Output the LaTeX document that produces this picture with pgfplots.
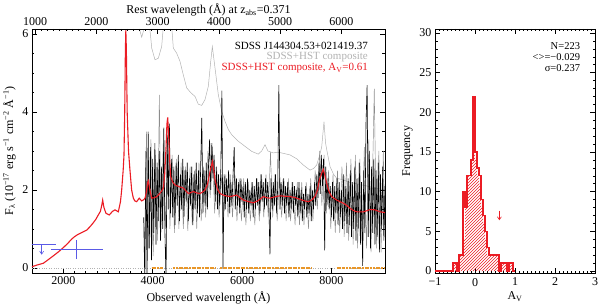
\documentclass[border=0pt]{standalone}
\usepackage{fontspec}
\setmainfont{Liberation Serif}
\usepackage{pgfplots}
\pgfplotsset{compat=1.18}
\usetikzlibrary{patterns,arrows.meta}
\definecolor{myred}{RGB}{235,28,36}
\definecolor{mygray}{RGB}{178,178,178}
\definecolor{mylgray}{RGB}{140,140,140}
\definecolor{myblue}{RGB}{90,90,230}
\definecolor{myorange}{RGB}{232,150,40}
\pgfplotsset{
 myaxis/.style={scale only axis, tick align=inside,
   /pgf/number format/assume math mode=true,
   /pgf/number format/set thousands separator={},
   tick label style={font=\fontsize{12}{12}\selectfont},
   label style={font=\fontsize{12}{13}\selectfont},
   major tick length=5pt, minor tick length=2.5pt,
   tick style={black, line width=0.5pt},
   axis line style={line width=0.6pt},
 }
}
\begin{document}
\begin{tikzpicture}
\useasboundingbox (0,0) rectangle (600pt,306pt);
% ---------------- left panel -----------------
\begin{axis}[myaxis, at={(32pt,33pt)}, anchor=south west, width=353pt, height=244pt,
 xmin=1300, xmax=9200, ymin=-0.13, ymax=6.13,
 xtick={2000,4000,6000,8000}, minor x tick num=7,
 ytick={0,2,4,6}, minor y tick num=3,
 xtick pos=left, ytick pos=both,
 xlabel={Observed wavelength (Å)},
 ylabel={F\textsubscript{λ} (10\textsuperscript{−17} erg s\textsuperscript{−1} cm\textsuperscript{−2} Å\textsuperscript{−1})},
]
% zero line
\addplot[mygray, line width=0.6pt, dash pattern=on 0.8pt off 1.6pt] coordinates {(1300,0) (9200,0)};
% unreddened composite
\addplot[mygray, line width=0.5pt] coordinates {
(3550,8) (3600,6.5) (3700,6.15) (3755,5.92) (3800,6.1) (3850,6.3) (3904,6.4) (3950,6.0) (3979,5.64) (4053,5.34) (4127,5.38) (4202,5.68) (4240,6.2) (4300,7.0) (4360,7.5) (4420,6.3) (4463,5.64) (4538,5.51) (4612,5.30) (4687,4.95) (4762,4.62) (4850,4.5) (4948,4.40) (5022,4.2) (5098,4.17) (5172,4.32) (5246,4.66) (5300,5.30) (5336,5.68) (5396,5.13) (5470,4.44) (5545,4.02) (5620,3.76) (5694,3.55) (5769,3.42) (5917,3.25) (6067,3.12) (6217,2.99) (6365,2.92) (6440,3.0) (6515,3.16) (6580,3.0) (6700,2.95) (6800,2.97) (6926,2.94) (7075,2.9) (7224,2.8) (7372,2.64) (7522,2.51) (7600,2.55) (7671,2.64) (7740,2.9) (7783,3.1) (7835,3.75) (7870,3.2) (7910,2.95) (7970,2.6) (8050,2.4) (8120,2.3) (8268,2.26) (8400,2.2) (8600,2.15) (8800,2.1) (9000,2.05) (9200,2.0)};
% gray noisy spectrum
\addplot[mylgray, line width=0.45pt] table {
x y
3812 0.0
3862 3.5
3912 0.5
3962 3.3
4012 0.3
4062 2.9
4112 0.7
4150 4.44
4187 0.9
4237 3.2
4287 1.0
4337 3.6
4387 1.0
4437 2.9
4487 0.9
4537 2.8
4587 1.0
4637 2.7
4687 1.0
4737 2.6
4787 0.95
4837 2.6
4887 1.1
4937 2.5
4987 1.0
5037 2.7
5087 1.2
5137 2.6
5187 1.3
5237 3.0
5287 1.8
5337 3.1
5387 1.4
5437 2.5
5487 1.3
5537 2.4
5587 1.2
5637 2.4
5687 1.3
5737 2.4
5787 1.3
5837 2.4
5887 1.2
5937 2.3
5987 1.2
6037 2.3
6087 1.1
6137 2.2
6187 1.2
6237 2.2
6287 1.1
6337 2.3
6387 1.2
6437 2.4
6487 1.3
6537 2.4
6587 1.3
6637 2.98
6687 1.3
6737 2.4
6787 1.2
6837 2.3
6887 1.3
6937 2.3
6987 1.2
7037 2.3
7087 1.2
7137 2.2
7187 1.1
7237 2.2
7287 1.1
7337 2.2
7387 1.1
7437 2.2
7487 1.0
7537 2.3
7587 1.2
7637 2.5
7687 1.5
7737 3.0
7787 1.6
7837 2.9
7887 1.4
7937 2.5
7987 1.0
8037 2.4
8087 0.9
8137 2.5
8187 0.9
8237 2.6
8287 0.8
8337 2.7
8387 0.7
8437 2.8
8487 0.6
8537 2.9
8587 0.5
8637 2.8
8687 0.6
8737 3.1
8787 0.5
8837 3.3
8887 0.4
8960 4.6
9012 0.5
9062 3.0
9112 0.4
9162 3.0
9200 1.0
};
% black SDSS spectrum
\addplot[black, line width=0.6pt] table {
x y
3800 1.3
3825 -0.4
3850 3.0
3875 -0.3
3900 3.5
3925 0.5
3950 3.1
3975 0.2
4000 2.8
4025 0.9
4050 3.2
4075 0.6
4100 2.7
4125 1.2
4150 3.0
4175 0.7
4200 2.6
4225 1.0
4250 3.6
4275 0.9
4300 -0.3
4325 3.4
4350 1.5
4375 3.7
4400 1.4
4425 2.8
4450 1.3
4475 2.6
4500 1.1
4525 2.7
4550 1.6
4575 2.9
4600 1.2
4625 2.4
4650 1.5
4675 2.8
4700 1.3
4725 2.5
4750 1.7
4775 2.7
4800 1.2
4825 2.3
4850 1.6
4875 2.6
4900 1.1
4925 2.4
4950 1.5
4975 2.7
5000 1.4
5025 2.5
5050 1.3
5075 2.6
5100 3.85
5125 1.4
5150 2.5
5175 1.6
5200 2.7
5225 1.5
5250 2.6
5275 3.3
5300 2.0
5325 3.2
5350 2.3
5375 2.9
5400 1.7
5425 2.6
5450 1.5
5475 2.4
5500 1.6
5525 2.5
5550 4.55
5575 0.0
5600 2.4
5625 1.5
5650 2.3
5675 1.7
5700 2.5
5725 1.4
5750 2.2
5775 1.6
5800 2.4
5825 3.1
5850 1.5
5875 2.3
5900 1.6
5925 2.2
5950 1.4
5975 2.3
6000 1.7
6025 2.1
6050 1.3
6075 2.2
6100 1.5
6125 2.3
6150 1.4
6175 2.0
6200 1.6
6225 2.2
6250 1.3
6275 2.1
6300 1.5
6325 2.3
6350 1.6
6375 2.2
6400 1.4
6425 2.4
6450 1.7
6475 2.2
6500 1.5
6525 2.3
6550 1.6
6575 2.2
6600 1.7
6625 0.35
6650 2.3
6675 1.5
6700 2.2
6725 1.6
6750 2.4
6775 1.4
6800 2.1
6825 4.69
6850 1.5
6875 2.2
6900 1.6
6925 2.3
6950 1.4
6975 2.1
7000 1.6
7025 2.2
7050 1.3
7075 2.0
7100 1.5
7125 2.2
7150 1.4
7175 2.1
7200 1.6
7225 2.0
7250 1.3
7275 2.2
7300 1.4
7325 2.0
7350 1.2
7375 1.9
7400 1.5
7425 2.1
7450 1.3
7475 1.9
7500 1.4
7525 2.1
7550 1.2
7575 2.0
7600 1.5
7625 2.2
7650 1.6
7675 2.4
7700 1.8
7725 2.7
7750 1.9
7775 2.9
7800 2.1
7825 2.8
7850 0.45
7875 2.6
7900 1.6
7925 2.3
7950 1.5
7975 2.1
8000 1.3
8025 2.2
8050 1.2
8075 2.1
8100 1.4
8125 2.3
8150 1.1
8175 2.2
8200 1.3
8225 2.0
8250 1.0
8275 2.4
8300 1.2
8325 2.1
8350 0.9
8375 2.3
8400 1.1
8425 2.5
8450 0.8
8475 2.2
8500 1.0
8525 2.6
8550 0.7
8575 2.3
8600 1.0
8625 2.7
8650 0.6
8675 2.2
8700 0.05
8725 2.5
8750 0.9
8775 3.7
8800 4.69
8825 0.8
8850 3.0
8875 0.5
8900 2.6
8925 0.9
8950 2.8
8975 0.6
9000 2.5
9025 0.8
9050 2.7
9075 0.4
9100 2.4
9125 1.0
9150 2.6
9175 0.7
9200 2.1
};
% reddened composite
\addplot[myred, line width=1.1pt] coordinates {
(1300,0.03) (1400,0.07) (1553,0.12) (1650,0.2) (1777,0.31) (1900,0.42) (2000,0.52) (2100,0.63) (2188,0.74) (2250,0.80) (2314,0.85) (2400,0.90) (2524,0.97) (2600,1.06) (2672,1.16) (2730,1.25) (2784,1.36) (2830,1.45) (2860,1.6) (2882,1.74) (2910,1.55) (2956,1.40) (3030,1.36) (3100,1.45) (3158,1.49) (3232,1.44) (3280,1.7) (3307,2.0) (3340,2.5) (3359,2.9) (3375,4.0) (3390,5.6) (3400,6.1) (3412,5.6) (3430,4.0) (3460,3.0) (3493,2.5) (3530,2.0) (3568,1.79) (3600,1.72) (3643,1.70) (3700,1.79) (3754,1.72) (3800,1.75) (3830,1.79) (3860,1.95) (3890,2.2) (3904,2.24) (3930,2.05) (3979,1.79) (4030,1.80) (4091,1.83) (4150,1.9) (4200,1.97) (4240,2.05) (4270,2.4) (4300,3.1) (4320,3.7) (4337,3.86) (4355,3.5) (4380,2.8) (4404,2.34) (4450,2.2) (4500,2.13) (4600,2.08) (4688,2.05) (4750,1.97) (4800,1.91) (4912,1.96) (5000,1.92) (5061,1.91) (5120,1.95) (5174,2.0) (5230,2.15) (5284,2.47) (5337,2.73) (5370,2.5) (5396,2.26) (5450,2.02) (5508,1.91) (5600,1.86) (5732,1.83) (5881,1.87) (5960,1.8) (6030,1.74) (6150,1.70) (6254,1.67) (6350,1.72) (6478,1.83) (6560,1.8) (6627,1.79) (6750,1.83) (6851,1.85) (6950,1.84) (7075,1.83) (7200,1.80) (7298,1.76) (7400,1.72) (7485,1.70) (7560,1.74) (7634,1.83) (7690,2.0) (7731,2.26) (7790,2.45) (7820,2.53) (7850,2.4) (7895,2.17) (7950,1.95) (8007,1.83) (8119,1.74) (8268,1.66) (8350,1.6) (8417,1.53) (8500,1.47) (8567,1.44) (8716,1.44) (8800,1.47) (8865,1.50) (8977,1.49) (9089,1.44) (9200,1.42)};
% photometric points
\addplot[myblue, line width=0.6pt, mark=none, draw=none,
  error bars/.cd, x dir=both, x explicit, y dir=both, y explicit,
  error bar style={myblue, line width=0.6pt}, error mark options={myblue, mark size=2.5pt, line width=0.6pt}]
  coordinates {(2285,0.49) += (537,0.16) -= (508,0.20)};
\addplot[myblue, line width=0.6pt, mark=none, draw=none,
  error bars/.cd, x dir=both, x explicit,
  error bar style={myblue, line width=0.6pt}, error mark options={myblue, mark size=2.5pt, line width=0.6pt}]
  coordinates {(1517,0.61) += (260,0) -= (217,0)};
\addplot[myblue, line width=0.6pt, quiver={u=0, v=-0.27}, -{Straight Barb[length=3pt,width=4pt]}] coordinates {(1517,0.61)};
% orange masks
\addplot[myorange, line width=2pt, dash pattern=on 2pt off 0.6pt] coordinates {(3980,0) (4240,0)};
\addplot[myorange, line width=2pt, dash pattern=on 2pt off 0.6pt] coordinates {(4463,0) (5396,0)};
\addplot[myorange, line width=2pt, dash pattern=on 2pt off 0.6pt] coordinates {(5508,0) (7560,0)};
\addplot[myorange, line width=2pt, dash pattern=on 2pt off 0.6pt] coordinates {(8119,0) (8300,0)};
\addplot[myorange, line width=2pt, dash pattern=on 2pt off 0.6pt] coordinates {(8335,0) (8900,0)};
\addplot[myorange, line width=2pt, dash pattern=on 2pt off 0.6pt] coordinates {(8935,0) (9170,0)};
% legend text
\node[anchor=east, inner sep=0pt, font=\fontsize{11}{11}\selectfont, black] at (axis cs:8820,5.69) {SDSS J144304.53+021419.37};
\node[anchor=east, inner sep=0pt, font=\fontsize{11}{11}\selectfont, mygray] at (axis cs:8820,5.41) {SDSS+HST composite};
\node[anchor=east, inner sep=0pt, font=\fontsize{11}{11}\selectfont, myred] at (axis cs:8820,5.13) {SDSS+HST composite, A\textsubscript{V}=0.61};
\end{axis}
% top axis: rest wavelength
\begin{axis}[myaxis, at={(32pt,33pt)}, anchor=south west, width=353pt, height=244pt,
 xmin=948.2, xmax=6710.4, ymin=0, ymax=1, axis x line*=top, axis y line=none,
 xtick={1000,2000,3000,4000,5000,6000}, minor x tick num=9,
 xlabel style={yshift=-5.5pt},
 xlabel={Rest wavelength (Å) at z\textsubscript{abs}=0.371}]
\addplot[draw=none] coordinates {(1000,0.5)};
\end{axis}
% ---------------- right panel -----------------
\begin{axis}[myaxis, at={(435pt,33pt)}, anchor=south west, width=160pt, height=244pt,
 xmin=-1, xmax=3, ymin=-0.25, ymax=30.5,
 xtick={-1,0,1,2,3}, xticklabels={−1,0,1,2,3}, minor x tick num=9,
 ytick={0,5,10,15,20,25,30}, minor y tick num=4,
 xtick pos=both, ytick pos=both,
 xticklabel style={yshift=-1.5pt},
 xlabel style={yshift=1.5pt},
 xlabel={A\textsubscript{V}}, ylabel={Frequency}]
\addplot[const plot mark left, draw=none, pattern=north east lines, pattern color=myred] coordinates {
(-1,0) (-0.55,1) (-0.50,1) (-0.45,0) (-0.40,2) (-0.35,2) (-0.30,4) (-0.25,8) (-0.20,12) (-0.15,12) (-0.10,14) (-0.05,15) (0.00,14) (0.05,12) (0.10,11) (0.15,8) (0.20,6) (0.25,4) (0.30,2) (0.35,2) (0.40,2) (0.45,2) (0.50,2) (0.55,2) (0.60,0) (0.65,1) (0.70,1) (0.75,1) (0.80,0) (0.85,1) (0.90,1) (0.95,0) (1.0,0)} \closedcycle;
\addplot[const plot mark left, myred, line width=1.3pt] coordinates {
(-1,0) (-0.55,1) (-0.50,1) (-0.45,0) (-0.40,2) (-0.35,2) (-0.30,10) (-0.25,8) (-0.20,12) (-0.15,12) (-0.10,14) (-0.05,22) (0.00,15) (0.05,13) (0.10,12) (0.15,9) (0.20,7) (0.25,5) (0.30,3) (0.35,2) (0.40,2) (0.45,2) (0.50,2) (0.55,2) (0.60,0) (0.65,1) (0.70,1) (0.75,1) (0.80,0) (0.85,1) (0.90,1) (0.95,0) (1.0,0)};
\addplot[myred, line width=0.6pt, quiver={u=0, v=-1.2}, -{Straight Barb[length=3pt,width=4pt]}] coordinates {(0.61,7.6)};
\node[anchor=east, inner sep=0pt, font=\fontsize{10.5}{10.5}\selectfont] at (axis cs:2.63,28.4) {N=223};
\node[anchor=east, inner sep=0pt, font=\fontsize{10.5}{10.5}\selectfont] at (axis cs:2.63,27.0) {<>=−0.029};
\node[anchor=east, inner sep=0pt, font=\fontsize{10.5}{10.5}\selectfont] at (axis cs:2.63,25.6) {σ=0.237};
\end{axis}
\end{tikzpicture}
\end{document}
